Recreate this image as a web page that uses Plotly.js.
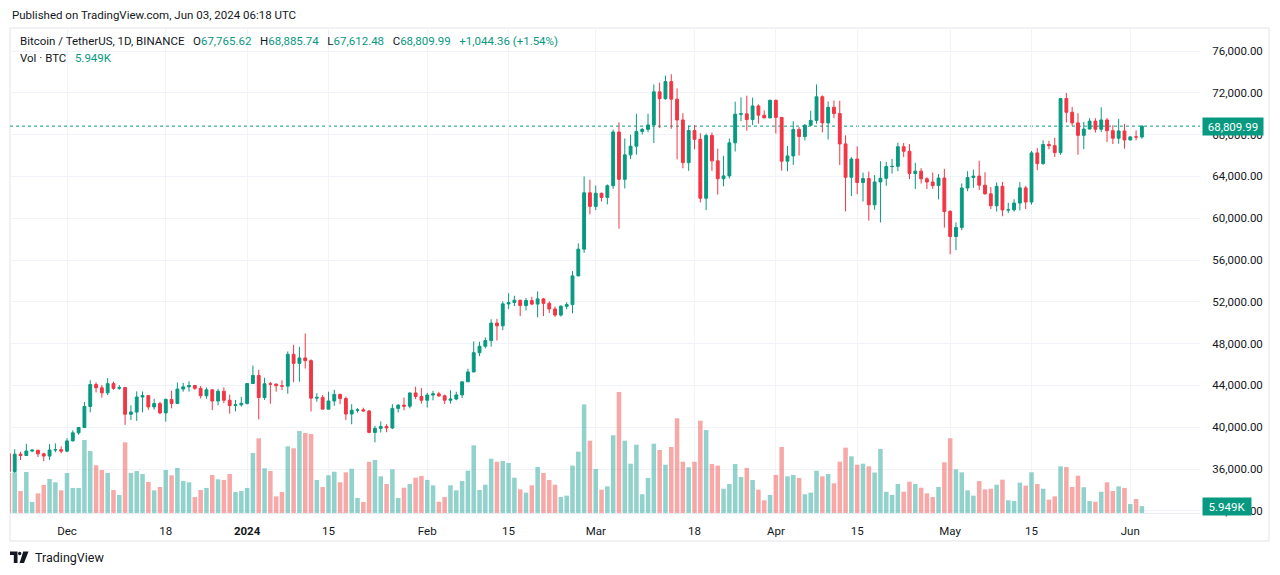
<!DOCTYPE html>
<html><head><meta charset="utf-8">
<script src="https://cdn.plot.ly/plotly-3.0.1.min.js"></script>
<style>html,body{margin:0;padding:0;background:#fff;}#chart{width:1280px;height:575px;}</style>
</head><body><div id="chart"></div>
<script>
// Daily candles, 2023-11-21 .. 2024-06-03 (BINANCE BTCUSDT, 1D)
const firstDay = [2023, 10, 21];
const open = [
 37470,35760,37420,37290,37720,37800,37450,37240,37820,37850,
 37710,38690,39460,39970,41980,44080,43770,43290,44170,43720,43790,41240,41450,42890,43020,41940,42260,41370,42660,42270,43650,43860,43990,43720,43010,43580,42510,43440,42580,42070,42140,
 42280,44180,44950,42840,44150,44120,43970,43930,46970,46110,46630,46370,42780,42850,41730,42510,43140,42740,41260,41620,41660,41550,39500,39890,40070,39930,41800,42110,42010,43280,42940,
 42580,43080,43190,43000,42580,42700,43090,44340,45290,47130,47750,48290,49960,49700,51800,51930,52150,51640,52120,51780,52280,51850,51320,50730,51570,51730,54480,57040,62430,
 61130,62390,61990,63110,68250,63720,66060,66890,68300,68500,68920,72090,71440,73070,71390,69400,65320,68390,67550,61910,67910,65490,63780,64050,67210,69950,69990,69440,70740,69860,69600,
 71280,69650,65460,65960,68490,67820,68900,69360,71620,69120,70610,70010,67110,63920,65660,63420,63790,61280,63470,63820,64940,64960,66840,66410,64280,64500,63770,63460,63120,63840,
 60640,58250,59120,62890,63890,64030,63160,62330,61190,63050,60790,60800,61450,62900,61550,66250,65230,67050,66940,66280,71450,70140,69120,67930,68530,69290,68510,69400,68370,67650,68350,
 67490,67780,67765.62
];
const high = [
 37650,37890,37650,38420,37900,37830,37560,38380,38450,38170,
 38950,39700,40000,42420,44490,44300,44050,44700,44360,44040,43800,42100,43430,43420,43080,42720,42430,42750,43490,44280,44240,44400,44000,43940,43800,43600,43680,43800,43120,42610,42900,
 44180,45900,45500,44730,44340,44190,44490,47250,47890,47690,48970,46500,43250,43080,43400,43580,43200,42930,42200,41820,41870,41650,40130,40550,40290,42200,42200,42840,43310,43880,43740,
 43290,43480,43380,43120,43530,43390,44390,45600,48200,48170,48590,50330,50370,52040,52820,52580,52200,52360,52480,53000,52370,52040,51550,51680,51960,54940,57590,64000,63680,
 63120,62430,63230,68490,69170,67630,67980,69990,68650,70000,72800,72970,73650,73780,72420,70040,68860,68920,68130,68100,68200,66650,65970,67620,71150,71560,71730,71540,70900,70320,71350,
 71340,69670,66910,69290,68720,69000,70280,72800,71750,71170,71260,71230,67930,65840,66870,64360,64470,64130,65450,65390,65670,67230,67200,67080,65300,64790,63920,64370,64230,64730,
 60780,59600,63320,64500,64650,65500,64390,62980,63420,63470,61490,61820,63450,63100,66440,66700,67450,67400,67700,71520,71980,70640,70050,69220,69570,69560,70610,69580,68900,69500,69020,
 67860,68400,68885.74
];
const low = [
 35630,35630,36860,37250,37610,37150,36750,36870,37600,37500,
 37610,38650,39280,39950,41420,43330,42820,43080,43580,43580,40220,40680,40600,41420,41670,41680,41250,40530,41800,42210,43400,43400,43570,42750,42720,41630,42100,42300,41300,41520,41970,
 42170,44150,40750,42610,42250,43400,43560,43200,44300,44350,45610,41500,42440,41720,41720,42050,42200,40680,40280,41400,41500,39430,38550,39490,39520,39820,41400,41620,41800,42680,42270,
 41880,42570,42880,42220,42260,42570,42790,44330,45250,46800,47540,47710,48300,49280,51300,51590,50630,51170,51680,50520,50630,50940,50540,50590,51280,50900,54450,56690,60360,
 60780,61600,61320,62810,59000,62850,65650,66080,68000,68230,67190,68620,71330,68560,65630,64780,64530,66600,61500,60780,64530,62260,63050,63800,66380,69280,68380,68910,69050,69580,69560,
 68100,64550,64490,65100,66000,67440,68820,69040,68210,67520,69570,65090,60660,62130,62300,61600,59770,60800,59600,63100,64270,64500,65850,63750,62800,63320,62790,62810,61800,59100,
 56550,56940,58850,62580,62900,62700,62250,60880,60630,60190,60490,60630,60750,60880,61300,64600,65110,66600,65860,66060,69160,68850,66080,66610,68500,68200,68250,67280,67100,67130,66650,
 67440,67450,67612.48
];
const close = [
 35760,37420,37290,37720,37800,37450,37240,37820,37850,37710,
 38690,39460,39970,41980,44080,43770,43290,44170,43720,43790,41240,41450,42890,43020,41940,42260,41370,42660,42270,43650,43860,43990,43720,43010,43580,42510,43440,42580,42070,42140,42280,
 44180,44950,42840,44150,44120,43970,43930,46970,46110,46630,46370,42780,42850,41730,42510,43140,42740,41260,41620,41660,41550,39500,39890,40070,39930,41800,42110,42010,43280,42940,42580,
 43080,43190,43000,42580,42700,43090,44340,45290,47130,47750,48290,49960,49700,51800,51930,52150,51640,52120,51780,52280,51850,51320,50730,51570,51730,54480,57040,62430,61130,
 62390,61990,63110,68250,63720,66060,66890,68300,68500,68920,72090,71440,73070,71390,69400,65320,68390,67550,61910,67910,65490,63780,64050,67210,69950,69990,69440,70740,69860,69600,71280,
 69650,65460,65960,68490,67820,68900,69360,71620,69120,70610,70010,67110,63920,65660,63420,63790,61280,63470,63820,64940,64960,66840,66410,64280,64500,63770,63460,63120,63840,60640,
 58250,59120,62890,63890,64030,63160,62330,61190,63050,60790,60800,61450,62900,61550,66250,65230,67050,66940,66280,71450,70140,69120,67930,68530,69290,68510,69400,68370,67650,68350,67490,
 67780,67765.63,68809.99
];
// Volume in thousands of BTC
const volumeK = [
 34.8,35.4,19.1,35.7,9.6,17.1,24.4,29.6,26.7,19.7,
 34.8,21.8,21.8,63.5,53.9,41.5,37.4,34.8,20.0,15.7,61.5,34.8,36.5,33.9,27.0,19.7,22.6,37.4,32.8,39.2,27.8,26.7,13.9,20.0,21.8,33.1,29.3,28.7,33.9,18.3,19.1,
 21.8,52.2,65.0,38.9,36.5,14.5,18.3,58.0,56.3,71.3,69.6,68.7,28.7,22.6,32.8,35.9,26.7,35.4,38.5,13.1,9.6,44.6,46.1,31.9,25.2,38.0,13.1,22.0,25.2,30.7,32.2,
 28.7,24.1,9.8,13.9,24.1,19.7,27.8,36.8,58.9,20.0,24.6,47.2,44.6,45.2,43.5,30.7,20.6,17.7,24.1,40.0,34.8,28.7,24.6,13.9,15.1,41.2,53.3,94.4,62.9,
 38.3,20.3,23.2,67.6,105.3,62.9,42.9,59.4,16.3,30.5,60.3,54.8,42.0,57.4,82.4,44.6,39.8,44.6,80.3,72.2,42.6,41.2,21.1,25.2,42.6,31.3,39.2,28.7,20.3,11.0,15.7,
 33.1,57.4,31.9,33.1,30.5,16.3,17.7,36.8,31.9,33.9,25.8,44.6,56.8,49.3,42.0,42.9,40.6,35.2,55.7,18.4,15.7,25.2,18.5,27.2,25.2,22.0,17.1,13.9,22.6,44.1,
 65.0,38.0,35.4,19.7,15.1,27.8,20.6,21.1,24.6,29.0,11.0,10.4,26.4,23.8,35.4,25.2,21.1,11.6,14.5,40.6,40.0,22.6,32.5,22.4,10.4,9.8,18.5,26.7,19.1,23.2,21.8,
 7.8,12.2,5.949
];
const tickDates = ['2023-12-01','2023-12-18','2024-01-01','2024-01-15','2024-02-01','2024-02-15','2024-03-01','2024-03-18','2024-04-01','2024-04-15','2024-05-01','2024-05-15','2024-06-01'];
const tickLabels = ['Dec','18','<b>2024</b>','15','Feb','15','Mar','18','Apr','15','May','15','Jun'];

const dates = open.map((_, i) => new Date(Date.UTC(firstDay[0], firstDay[1], firstDay[2] + i)).toISOString().slice(0, 10));

const UP = '#089981', DOWN = '#F23645';
const volColors = close.map((c, i) => c >= open[i] ? 'rgba(38,166,154,0.5)' : 'rgba(239,83,80,0.5)');
const FONT = 'Roboto, "Open Sans", sans-serif';
const TXT = '#131722';

const fmt = v => v.toLocaleString('en-US', {minimumFractionDigits: 2, maximumFractionDigits: 2});
const n = close.length;
const lastO = open[n-1], lastH = high[n-1], lastL = low[n-1], lastC = close[n-1];
const chg = lastC - close[n-2];
const chgPct = chg / close[n-2] * 100;
const lastVol = volumeK[n-1];

// pixel helpers for paper coordinates (plot area x:10..1200, y:29..513)
const PL = 10, PR = 1200, PT = 29, PB = 513;
const px = x => (x - PL) / (PR - PL);
const py = y => (PB - y) / (PB - PT);
function txt(x, y, text, size, color, extra) {
  return Object.assign({xref: 'paper', yref: 'paper', x: px(x), y: py(y), xanchor: 'left', yanchor: 'middle',
    text: text, showarrow: false, font: {family: FONT, size: size, color: color}}, extra || {});
}
const teal = s => '<span style="color:' + UP + '">' + s + '</span>';
const GAP = '\u00A0\u00A0\u00A0';
const sign = chg >= 0 ? '+' : '';
const legendLine = 'Bitcoin / TetherUS, 1D, BINANCE' + GAP +
  'O' + teal(fmt(lastO)) + GAP +
  'H' + teal(fmt(lastH)) + GAP +
  'L' + teal(fmt(lastL)) + GAP +
  'C' + teal(fmt(lastC)) + GAP +
  teal(sign + fmt(chg) + ' (' + sign + chgPct.toFixed(2) + '%)');

const annotations = [
  txt(10, 15, 'Published on TradingView.com, Jun 03, 2024 06:18 UTC', 11.5, TXT),
  txt(18, 41, legendLine, 11.5, TXT),
  txt(18, 58, 'Vol · BTC' + GAP + teal(lastVol.toFixed(3) + 'K'), 11.5, TXT),
  {xref: 'paper', yref: 'y2', x: px(1202), y: lastC, xanchor: 'left', yanchor: 'middle', showarrow: false,
   text: fmt(lastC), bgcolor: UP, width: 56, height: 13, borderpad: 2, align: 'center',
   font: {family: FONT, size: 11.5, color: '#ffffff'}},
  {xref: 'paper', yref: 'y', x: px(1202), y: lastVol, xanchor: 'left', yanchor: 'middle', showarrow: false,
   text: lastVol.toFixed(3) + 'K', bgcolor: UP, width: 44, height: 13, borderpad: 2, align: 'center',
   font: {family: FONT, size: 11.5, color: '#ffffff'}},
  txt(33, 557, 'TradingView', 12.5, TXT)
];

function pathPx(pts) {
  return 'M' + pts.map(p => px(p[0]) + ',' + py(p[1])).join(' L') + ' Z';
}
const shapes = [
  {type: 'rect', xref: 'paper', yref: 'paper', x0: px(10), x1: px(1269), y0: py(541), y1: py(28),
   line: {color: '#e0e3eb', width: 1}, fillcolor: 'rgba(0,0,0,0)', layer: 'below'},
  {type: 'line', xref: 'paper', yref: 'y2', x0: 0, x1: 1, y0: lastC, y1: lastC,
   line: {color: UP, width: 1, dash: 'dot'}, layer: 'below'},
  // TradingView logo mark
  {type: 'path', xref: 'paper', yref: 'paper', path: pathPx([[10,551.5],[17.5,551.5],[17.5,563],[13.8,563],[13.8,555],[10,555]]),
   fillcolor: TXT, line: {width: 0}},
  {type: 'circle', xref: 'paper', yref: 'paper', x0: px(18), x1: px(21.4), y0: py(555.2), y1: py(551.8),
   fillcolor: TXT, line: {width: 0}},
  {type: 'path', xref: 'paper', yref: 'paper', path: pathPx([[23.2,551.5],[28.5,551.5],[24,563],[19.6,563]]),
   fillcolor: TXT, line: {width: 0}}
];

const traces = [
  {type: 'bar', x: dates, y: volumeK, yaxis: 'y', xaxis: 'x', marker: {color: volColors, line: {width: 0}},
   hoverinfo: 'skip', showlegend: false},
  {type: 'candlestick', x: dates, open: open, high: high, low: low, close: close, xaxis: 'x', yaxis: 'y2',
   increasing: {line: {color: UP, width: 1}, fillcolor: UP},
   decreasing: {line: {color: DOWN, width: 1}, fillcolor: DOWN},
   whiskerwidth: 0, hoverinfo: 'skip', showlegend: false}
];

const layout = {
  width: 1280, height: 575,
  margin: {l: PL, r: 1280 - PR, t: PT, b: 575 - PB},
  paper_bgcolor: '#ffffff', plot_bgcolor: '#ffffff',
  showlegend: false, hovermode: false, bargap: 0.22,
  xaxis: {type: 'date', range: ['2023-11-21 04:34', '2024-06-13 00:00'],
    tickmode: 'array', tickvals: tickDates, ticktext: tickLabels,
    showgrid: true, gridcolor: '#f0f3fa', gridwidth: 1, zeroline: false,
    ticks: 'outside', ticklen: 7, tickcolor: 'rgba(0,0,0,0)',
    tickfont: {family: FONT, size: 11.5, color: TXT},
    showline: true, linecolor: '#e9ecf2', linewidth: 1,
    rangeslider: {visible: false}, fixedrange: true},
  yaxis: {range: [0, 421], visible: false, fixedrange: true, showgrid: false, zeroline: false},
  yaxis2: {overlaying: 'y', anchor: 'x', side: 'right', range: [31790, 78105],
    tick0: 0, dtick: 4000, tickformat: ',.2f',
    showgrid: true, gridcolor: '#f0f3fa', gridwidth: 1, zeroline: false, showline: false,
    ticks: 'outside', ticklen: 9, tickcolor: 'rgba(0,0,0,0)',
    tickfont: {family: FONT, size: 11.5, color: TXT}, fixedrange: true},
  annotations: annotations,
  shapes: shapes
};

Plotly.newPlot('chart', traces, layout, {staticPlot: true, displayModeBar: false});
</script>
</body></html>
